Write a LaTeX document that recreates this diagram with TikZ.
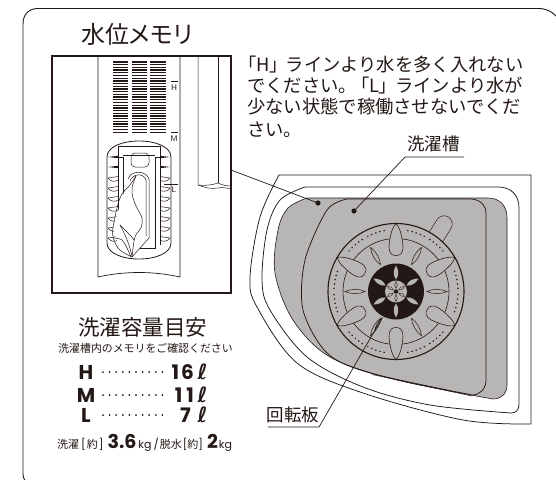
\documentclass[tikz,border=0pt]{standalone}
\usepackage{fontspec}
\setmainfont{Noto Sans CJK JP}
\newfontfamily\pal[RawFeature=+palt]{Noto Sans CJK JP}
\newfontfamily\pop{Poppins}[BoldFont={Poppins Bold}]
\newfontfamily\djfont{DejaVu Sans}
\definecolor{ink}{HTML}{231815}
\definecolor{tub}{HTML}{B8B5B5}
\tikzset{
  thinline/.style={draw=ink,line width=0.5pt},
  medline/.style={draw=ink,line width=0.8pt},
  txt/.style={inner sep=0pt,text=ink,anchor=west},
  ctr/.style={inner sep=0pt,text=ink,anchor=center},
  dotmark/.style={circle,fill=ink,inner sep=0pt,minimum size=5.2pt},
  lvl/.style={inner sep=0pt,text=ink,font=\pop\bfseries\fontsize{20}{20}\selectfont},
  notetext/.style={txt,font=\fontsize{18.3}{18.3}\selectfont},
}
\newcommand{\ellg}{{\djfont\bfseries\fontsize{21}{21}\selectfont ℓ}}
\begin{document}
\begin{tikzpicture}[x=1pt,y=-1pt]
\useasboundingbox (0,0) rectangle (556,479);
\fill[white] (0,0) rectangle (556,479);
% frame
\draw[ink,line width=0.9pt] (26,482) .. controls (23,478) and (23,476) .. (23,470) -- (23,24) .. controls (23,14) and (29,8.5) .. (38,8.5) -- (538,8.5) .. controls (546,8.5) and (551,11) .. (556,16);
% title and notes
\node[txt,font=\pal\fontsize{24}{24}\selectfont] (title) at (81,34.5) {水位メモリ};
\node[notetext] (n1) at (247,65) {{\pal「H」}\kern7pt ラインより水を多く入れない};
\node[notetext] (n2) at (247,86) {でください。\kern3pt{\pal「L」}\kern7pt ラインより水が};
\node[notetext] (n3) at (247,107) {少ない状態で稼働させないでくだ};
\node[notetext] (n4) at (247,130) {さい。};
% memory box
\draw[ink,line width=1.4pt] (52,56) rectangle (231,293);
\begin{scope}
\clip (52,56) rectangle (231,293);
\draw[thinline,line width=0.7pt] (98,56) -- (98,277) .. controls (125,271) and (153,271) .. (180,277) -- (180,56);
\foreach \xa/\xb in {113/128,132/147,150/166}{
  \foreach \i in {0,...,26}{
    \draw[ink,line width=1.3pt] (\xa,62+2.7*\i) -- (\xb,62+2.7*\i);
  }
}
\draw[thinline] (198,56) -- (198,185) .. controls (205,186) and (212,185) .. (218,183) .. controls (222,185) and (226,186) .. (232,186);
\draw[thinline] (218,56) -- (218,183);
\draw[thinline] (198,185) .. controls (205,188) and (212,189) .. (218,188) .. controls (222,187) and (226,188) .. (232,189);
\end{scope}
% scale marks
\node[ctr,font=\sffamily\fontsize{8}{8}\selectfont] (mh) at (174,88) {H};
\node[ctr,font=\sffamily\fontsize{8}{8}\selectfont] (mm) at (174,139) {M};
\node[ctr,font=\sffamily\fontsize{8}{8}\selectfont] (ml) at (174,190) {L};
\draw[thinline] (171,81) -- (178,81);
\draw[thinline] (171,132) -- (178,132);
\draw[thinline] (164,184) -- (178,184);
% window
\draw[medline] (107,157) .. controls (107,147) and (122,141) .. (139,141) .. controls (156,141) and (171,147) .. (171,157) -- (171,243) .. controls (171,253) and (156,259) .. (139,259) .. controls (122,259) and (107,253) .. (107,243) -- cycle;
\draw[thinline] (118,157) -- (118,146) -- (160,146) -- (160,157);
\draw[thinline] (123,248) -- (155,248) -- (155,157) -- (160,157) -- (160,245);
\draw[thinline] (119,157) -- (123,157) -- (123,248);
\draw[thinline] (123,155) -- (155,155);
\draw[thinline] (118,157) -- (118,245);
\draw[thinline,rounded corners=4pt] (131,167) -- (131,153) -- (149,153) -- (149,167) -- cycle;
\foreach \yy in {157,167}{
  \fill[ink] (108,\yy) -- (118,\yy-1.2) -- (118,\yy+1.2) -- cycle;
  \fill[ink] (170,\yy) -- (160,\yy-1.2) -- (160,\yy+1.2) -- cycle;
}
\foreach \yy in {178,188,198,208,218,228,238}{
  \draw[thinline] (108,\yy) -- (118,\yy-1.5);
  \draw[thinline] (108,\yy) .. controls (111,\yy+4) and (115,\yy+4) .. (118,\yy+2);
  \draw[thinline] (170,\yy) -- (160,\yy-1.5);
  \draw[thinline] (170,\yy) .. controls (167,\yy+4) and (163,\yy+4) .. (160,\yy+2);
}
% lint bag and cloth
\fill[white] (128,179) .. controls (131,170) and (146,170) .. (149,179) -- (149,238) -- (132,257) -- (120,250) -- (113,228) -- cycle;
\draw[thinline] (128,179) .. controls (131,170) and (146,170) .. (149,179) -- (149,238) -- (132,257);
\draw[thinline] (130,181) .. controls (133,173) and (144,173) .. (146,180) -- (146,236);
\draw[thinline] plot[smooth,tension=0.6] coordinates {(136,176) (130,185) (120,198) (113,228) (114,240) (120,250) (132,257)};
\draw[thinline] plot[smooth,tension=0.6] coordinates {(136,176) (132,188) (133,198) (137,208) (142,218) (141,228) (135,237) (132,257)};
\draw[thinline] plot[smooth,tension=0.6] coordinates {(120,225) (130,235) (134,240)};
\draw[thinline] plot[smooth,tension=0.6] coordinates {(120,225) (125,235) (129,245) (132,256)};
\draw[thinline] plot[smooth,tension=0.6] coordinates {(114,238) (122,240) (127,248) (131,257)};
% capacity block
\node[ctr,font=\fontsize{21.5}{21.5}\selectfont] (cap) at (142.5,327) {洗濯容量目安};
\node[ctr,font=\fontsize{10.9}{11}\selectfont] (capsub) at (145.5,348) {洗濯槽内のメモリをご確認ください};
\node[lvl,anchor=center] (lh) at (86,372) {H};
\node[lvl,anchor=center] (lm) at (86,395) {M};
\node[lvl,anchor=center] (ll) at (86,415) {L};
\node[lvl,anchor=east] (vh) at (194,372) {1\kern2pt 6};
\node[lvl,anchor=east] (vm) at (194,395) {1\kern4pt 1};
\node[lvl,anchor=east] (vl) at (191,415) {7};
\node[ctr] (eh) at (202.5,372) {\ellg};
\node[ctr] (em) at (202.5,395) {\ellg};
\node[ctr] (el) at (202.5,415) {\ellg};
\foreach \yy in {372,395,415}{
  \foreach \i in {0,...,9}{
    \fill[ink] (103+6.6*\i,\yy) circle (1pt);
  }
}
\node[txt,font=\fontsize{11}{11}\selectfont] (spec) at (57,443) {洗濯\kern2pt{\pop[}\kern1pt 約\kern1pt{\pop]}\kern4pt{\pop\bfseries\fontsize{19}{19}\selectfont 3.6}\kern2pt{\pop\fontsize{11}{11}\selectfont kg\kern2pt/}\kern1pt 脱水\kern1pt{\pop[}約{\pop]}\kern4pt{\pop\bfseries\fontsize{19}{19}\selectfont 2}\kern1pt{\pop\fontsize{11}{11}\selectfont kg}};
% tub
\draw[thinline,line width=0.75pt] plot[smooth,tension=0.55] coordinates {(531,424) (463,420) (363,393) (297,363) (257,307) (250,277) (260,217) (279,175)} -- (531,175) -- cycle;
\draw[thinline,line width=0.75pt] (305,187) -- (498,187) .. controls (511,187) and (519,195) .. (519,208) -- (519,404) .. controls (519,410) and (516,413) .. (511,413);
\draw[thinline,line width=0.75pt] plot[smooth,tension=0.55] coordinates {(511,413) (430,405) (363,387) (307,357) (270,310) (262,280) (267,230) (280,200) (305,187)};
\fill[tub,draw=ink,line width=0.6pt] plot[smooth,tension=0.55] coordinates {(493,399) (397,380) (330,357) (293,320) (275,273) (278,230) (288,208) (307,198)} -- (488,198) .. controls (500,198) and (507,206) .. (507,218) -- (507,385) .. controls (507,394) and (501,399) .. (493,399) -- cycle;
\draw[thinline,line width=0.75pt] plot[smooth,tension=0.5] coordinates {(472,395) (370,373) (327,353) (303,310) (305,260) (327,210) (347,199)} -- (470,199) .. controls (480,199) and (486,205) .. (486,214) -- (486,380) .. controls (486,389) and (480,395) .. (472,395);
\draw[thinline] (372,374.5) -- (472,396);
% handle
\draw[ink,line width=17pt,line cap=round] (444,224) -- (428,250);
\draw[tub,line width=15.8pt,line cap=round] (444,224) -- (428,250);
% disc
\coordinate (dc) at (396,291.5);
\fill[tub,draw=ink,line width=1.1pt] (dc) circle (68);
\draw[thinline,line width=0.6pt] (dc) circle (53);
\foreach \g in {30,90,150,210,270,330}{
  \foreach \a in {11,15,19,23,27,33,37,41,45,49}{
    \fill[ink] ([shift={(\g+\a:62)}]dc) circle (0.85pt);
  }
  \begin{scope}[shift={(dc)},rotate=\g]
    \fill[tub,draw=ink,line width=0.55pt] (36,0) .. controls (36,-8) and (44,-7.5) .. (50,-6.5) .. controls (57,-5.5) and (65,-3.5) .. (68,0) .. controls (65,3.5) and (57,5.5) .. (50,6.5) .. controls (44,7.5) and (36,8) .. (36,0) -- cycle;
  \end{scope}
  \begin{scope}[shift={(dc)},rotate=\g+30]
    \draw[thinline,fill=tub] (31,0) .. controls (36,-2.8) and (45,-2.8) .. (51,0) .. controls (45,2.8) and (36,2.8) .. (31,0) -- cycle;
  \end{scope}
}
\fill[ink] (dc) circle (28);
\foreach \g in {30,90,150,210,270,330}{
  \begin{scope}[shift={(dc)},rotate=\g]
    \fill[tub] (12,0) .. controls (16,-3) and (21,-3) .. (26,0) .. controls (21,3) and (16,3) .. (12,0) -- cycle;
  \end{scope}
}
\fill[tub] (dc) circle (11);
\foreach \g in {30,90,150,210,270,330}{
  \begin{scope}[shift={(dc)},rotate=\g]
    \draw[ink,line width=0.4pt] (3,0) .. controls (5,-1.8) and (8,-1.8) .. (10,0) .. controls (8,1.8) and (5,1.8) .. (3,0) -- cycle;
  \end{scope}
}
\fill[ink] (dc) circle (2.2);
% leaders
\coordinate (mbox) at (231,170);
\node[dotmark] (d1) at (318,203) {};
\node[dotmark] (d2) at (354,211) {};
\coordinate (k1) at (405,157);
\coordinate (k2) at (464,157);
\coordinate (r0) at (382,318);
\coordinate (r1) at (319,427);
\coordinate (r2) at (268,427);
\draw[thinline,line width=0.7pt] (mbox) -- (d1.center);
\draw[thinline,line width=0.7pt] (d2.center) -- (k1) -- (k2);
\draw[thinline,line width=0.7pt] (r0) -- (r1) -- (r2);
\draw[ink,line width=0.5pt,fill=ink!60!tub] (382,318) .. controls (381,322) and (378,327) .. (375,329) .. controls (376,325) and (379,320) .. (382,318) -- cycle;
\node[ctr,font=\fontsize{17.5}{17.5}\selectfont] (lsen) at (433.5,144) {洗濯槽};
\node[ctr,font=\fontsize{17.5}{17.5}\selectfont] (lrot) at (293,415) {回転板};
\end{tikzpicture}
\end{document}
